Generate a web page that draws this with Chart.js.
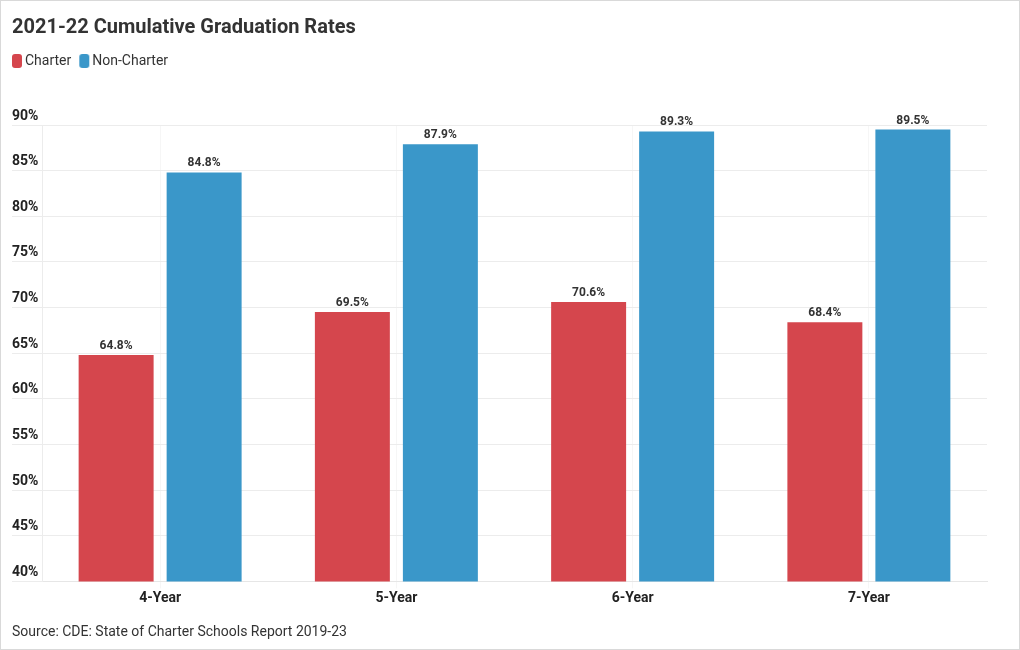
<!DOCTYPE html>
<html>
<head>
<meta charset="utf-8">
<script src="https://cdn.jsdelivr.net/npm/chart.js@4"></script>
<style>
  html, body { margin: 0; padding: 0; background: #fff; }
  #wrap { position: relative; width: 1020px; height: 650px; box-sizing: border-box; border: 1px solid #d9d9d9; }
</style>
</head>
<body>
<div id="wrap"><canvas id="c"></canvas></div>
<script>
const categories = ['4-Year', '5-Year', '6-Year', '7-Year'];
const charterValues = [64.8, 69.5, 70.6, 68.4];
const nonCharterValues = [84.8, 87.9, 89.3, 89.5];
const seriesNames = ['Charter', 'Non-Charter'];
const seriesColors = ['#d5464d', '#3a97c9'];
const yTicks = [40, 45, 50, 55, 60, 65, 70, 75, 80, 85, 90];
const titleText = '2021-22 Cumulative Graduation Rates';
const sourceText = 'Source: CDE: State of Charter Schools Report 2019-23';

const FONT = 'Roboto, "Noto Sans", sans-serif';

// legend swatch: rounded rect drawn into a small canvas used as point style
function swatch(color) {
  const c = document.createElement('canvas');
  c.width = 20; c.height = 14;
  const g = c.getContext('2d');
  g.fillStyle = color;
  g.beginPath();
  if (g.roundRect) g.roundRect(9, 0, 10, 14, 3); else g.rect(9, 0, 10, 14);
  g.fill();
  return c;
}
const swatches = seriesColors.map(swatch);

const valueLabels = {
  id: 'valueLabels',
  afterDatasetsDraw(chart) {
    const ctx = chart.ctx;
    ctx.save();
    ctx.font = 'bold 12px ' + FONT;
    ctx.fillStyle = '#333';
    ctx.textAlign = 'center';
    ctx.textBaseline = 'alphabetic';
    chart.data.datasets.forEach((ds, i) => {
      const meta = chart.getDatasetMeta(i);
      meta.data.forEach((bar, j) => {
        ctx.fillText(ds.data[j].toFixed(1) + '%', bar.x, bar.y - 6);
      });
    });
    ctx.restore();
  }
};

const legendTweak = {
  id: 'legendTweak',
  beforeInit(chart) {
    const orig = chart.legend.fit;
    chart.legend.fit = function () {
      orig.bind(chart.legend)();
      this.height += 47;
    };
  },
  afterLayout(chart) {
    chart.legend.left -= 8;
  }
};

new Chart(document.getElementById('c'), {
  type: 'bar',
  data: {
    labels: categories,
    datasets: [
      { label: seriesNames[0], data: charterValues, backgroundColor: seriesColors[0] },
      { label: seriesNames[1], data: nonCharterValues, backgroundColor: seriesColors[1] }
    ]
  },
  options: {
    responsive: true,
    maintainAspectRatio: false,
    animation: false,
    categoryPercentage: 0.745,
    barPercentage: 0.852,
    layout: { padding: { left: 11, right: 32, top: 0, bottom: 0 } },
    plugins: {
      title: {
        display: true,
        text: titleText,
        align: 'start',
        color: '#333',
        font: { family: FONT, size: 20, weight: 'bold' },
        padding: { top: 15, bottom: 10 }
      },
      legend: {
        display: true,
        align: 'start',
        labels: {
          color: '#333',
          font: { family: FONT, size: 14 },
          usePointStyle: true,
          pointStyleWidth: 10,
          padding: 4,
          generateLabels(chart) {
            const items = Chart.defaults.plugins.legend.labels.generateLabels(chart);
            items.forEach((it, i) => { it.pointStyle = swatches[it.datasetIndex ?? i]; });
            return items;
          }
        }
      },
      subtitle: {
        display: true,
        text: sourceText,
        position: 'bottom',
        align: 'start',
        color: '#333',
        font: { family: FONT, size: 14, weight: 'normal' },
        padding: { top: 15, bottom: 8 }
      },
      tooltip: { enabled: false }
    },
    scales: {
      x: {
        grid: { offset: false, color: '#f6f6f6', tickLength: 7, drawTicks: true },
        border: { color: '#e6e6e6' },
        ticks: { color: '#222', font: { family: FONT, size: 14, weight: 'bold' }, padding: 2 }
      },
      y: {
        min: 40,
        max: 90,
        afterBuildTicks(scale) { scale.ticks = yTicks.map(v => ({ value: v })); },
        afterFit(scale) { scale.width = 30; },
        grid: { color: '#ececec', tickLength: 30, drawTicks: true },
        border: { color: '#ececec' },
        ticks: {
          color: '#222',
          font: { family: FONT, size: 14, weight: 'bold' },
          crossAlign: 'far',
          padding: 0,
          labelOffset: -9,
          callback: v => v + '%'
        }
      }
    }
  },
  plugins: [valueLabels, legendTweak]
});
</script>
</body>
</html>
